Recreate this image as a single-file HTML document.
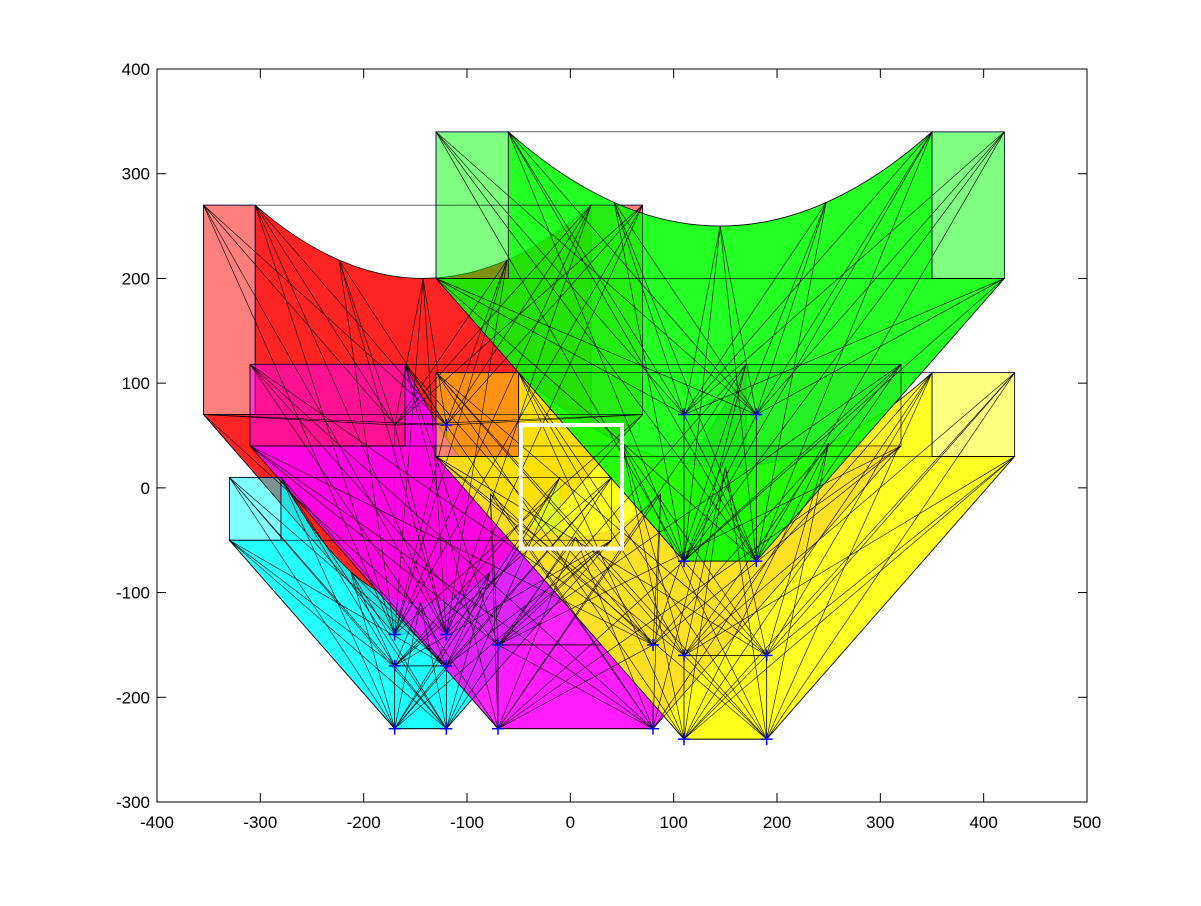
<!DOCTYPE html>
<html><head><meta charset="utf-8"><style>
body{margin:0;background:#fff;}
svg text{font-family:"Liberation Sans",sans-serif;font-size:17px;fill:#000;}
</style></head><body>
<svg id="chart" width="1201" height="901" xmlns="http://www.w3.org/2000/svg"></svg>
<script>
const xTicks=[-400,-300,-200,-100,0,100,200,300,400,500];
const yTicks=[-300,-200,-100,0,100,200,300,400];
// each shape (draw order)
const shapeNames=['red','cyan','magenta','yellow','green'];
const shapeColors=['#ff0000','#00ffff','#ff00ff','#ffff00','#00ff00'];
const topLeftX=[-355,-330,-310,-130,-130];
const topW=[50,50,150,80,70];
const topRightX=[20,-10,170,350,350];
const topY=[270,10,118,110,340];
const rectBotY=[70,-50,40,30,200];
const curveMinY=[200,-110,-47,20,250];
const bottomLeftX=[-170,-170,-70,110,110];
const bottomY=[-140,-230,-230,-240,-70];
const bottomRectTopY=[60,-170,-150,-160,70];
const rightRectOpacity=[0.5,0,0.35,0.5,0.5];
const crossX=[-120,-170,-120,-170,-120,-170,-120,-70,80,-70,80,110,190,110,190,110,180,110,180];
const crossY=[60,-140,-140,-170,-170,-230,-230,-150,-150,-230,-230,-160,-160,-240,-240,70,70,-70,-70];

const X0=157,X1=1087,Y0=802,Y1=69;
const sx=v=>X0+(v+400)/900*(X1-X0);
const sy=v=>Y0-(v+300)/700*(Y0-Y1);
const NS='http://www.w3.org/2000/svg';
const svg=document.getElementById('chart');
function mk(t,a,p){const e=document.createElementNS(NS,t);for(const k in a)e.setAttribute(k,a[k]);(p||svg).appendChild(e);return e;}
const plot=mk('g',{});


const P=(x,y)=>sx(x)+','+sy(y);
shapeNames.forEach((nm,i)=>{
 const g=mk('g',{},plot);
 
 
 const tl=topLeftX[i],w=topW[i],tr=topRightX[i],ty=topY[i],rb=rectBotY[i],cm=curveMinY[i];
 const bl=bottomLeftX[i],by=bottomY[i],bt=bottomRectTopY[i];
 const midX=(tl+w+tr)/2, ctrlY=2*cm-ty;
 [[tl,tl+w,0.5],[tr,tr+w,rightRectOpacity[i]]].forEach(r=>{
  const e=mk('rect',{x:sx(r[0]),y:sy(ty),width:sx(r[1])-sx(r[0]),height:sy(rb)-sy(ty),fill:shapeColors[i],'fill-opacity':r[2],stroke:'#0000cc','stroke-width':0.8},g);
  
  
 });
 const d=`M${P(tl+w,ty)} Q${P(midX,ctrlY)} ${P(tr,ty)} L${P(tr,rb)} L${P(tr+w,rb)} L${P(bl+w,by)} L${P(bl,by)} L${P(tl,rb)} L${P(tl+w,rb)} Z`;
 const body=mk('path',{d:d,fill:shapeColors[i],'fill-opacity':0.86,stroke:'#000','stroke-width':0.8},g);
 
 
 const br=mk('rect',{x:sx(bl),y:sy(bt),width:sx(bl+w)-sx(bl),height:sy(by)-sy(bt),fill:shapeColors[i],'fill-opacity':0.2,stroke:'#000','stroke-width':0.8},g);
 
 
});
shapeNames.forEach((nm,i)=>{
 const g=mk('g',{stroke:'#000','stroke-width':0.6,fill:'none'},plot);
 
 
 const tl=topLeftX[i],w=topW[i],tr=topRightX[i],ty=topY[i],rb=rectBotY[i],cm=curveMinY[i];
 const bl=bottomLeftX[i],by=bottomY[i],bt=bottomRectTopY[i];
 const midX=(tl+w+tr)/2;
 const up=[[tl,ty],[tl+w,ty],[tr,ty],[tr+w,ty],[tl,rb],[tr+w,rb],[midX,cm],[(tl+w+midX)/2,(ty+cm)/2+(cm-ty)*0.25],[(tr+midX)/2,(ty+cm)/2+(cm-ty)*0.25]];
 const low=[[bl,by],[bl+w,by],[bl,bt],[bl+w,bt]];
 up.forEach(a=>low.forEach(b=>mk('line',{x1:sx(a[0]),y1:sy(a[1]),x2:sx(b[0]),y2:sy(b[1])},g)));
 mk('line',{x1:sx(bl),y1:sy(by),x2:sx(bl+w),y2:sy(bt)},g);
 mk('line',{x1:sx(bl+w),y1:sy(by),x2:sx(bl),y2:sy(bt)},g);
 mk('rect',{x:sx(tl),y:sy(ty),width:sx(tr+w)-sx(tl),height:sy(rb)-sy(ty)},g);
});
const wr=mk('rect',{x:sx(-48),y:sy(60),width:sx(50)-sx(-48),height:sy(-58)-sy(60),fill:'none',stroke:'#fff','stroke-width':4},plot);


crossX.forEach((v,i)=>{
 const g=mk('g',{stroke:'#0000ff','stroke-width':1.5},plot);
 
 
 const x=sx(v),y=sy(crossY[i]);
 mk('line',{x1:x-6,y1:y,x2:x+6,y2:y},g);mk('line',{x1:x,y1:y-6,x2:x,y2:y+6},g);
});
const ax=mk('rect',{x:X0,y:Y1,width:X1-X0,height:Y0-Y1,fill:'none',stroke:'#000','stroke-width':1});


xTicks.forEach(v=>{const x=sx(v);
 mk('line',{x1:x,y1:Y0,x2:x,y2:Y0-9,stroke:'#000'});mk('line',{x1:x,y1:Y1,x2:x,y2:Y1+9,stroke:'#000'});
 const t=mk('text',{x:x,y:Y0+26,'text-anchor':'middle'});t.textContent=v;
 
 
});
yTicks.forEach(v=>{const y=sy(v);
 mk('line',{x1:X0,y1:y,x2:X0+9,y2:y,stroke:'#000'});mk('line',{x1:X1,y1:y,x2:X1-9,y2:y,stroke:'#000'});
 const t=mk('text',{x:X0-7,y:y+6,'text-anchor':'end'});t.textContent=v;
 
 
});
</script>
</body></html>
